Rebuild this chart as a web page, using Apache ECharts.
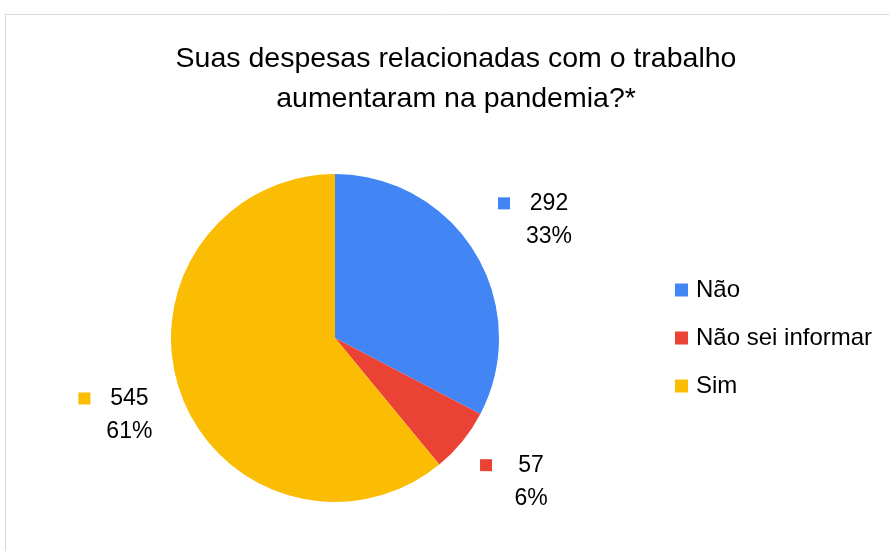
<!DOCTYPE html>
<html>
<head>
<meta charset="utf-8">
<script src="https://cdn.jsdelivr.net/npm/echarts@6/dist/echarts.min.js"></script>
<style>
  html, body { margin: 0; padding: 0; background: #fff; }
  #chart { width: 889px; height: 551px; }
</style>
</head>
<body>
<div id="chart"></div>
<script>
const titleText = "Suas despesas relacionadas com o trabalho\naumentaram na pandemia?*";
const categories = ["Não", "Não sei informar", "Sim"];
const counts = [292, 57, 545];
const colors = ["#4285F4", "#EA4335", "#FBBC04"];

const fontFamily = "'Liberation Sans', Arial, sans-serif";
const total = counts.reduce((a, b) => a + b, 0);

const pieData = categories.map((name, i) => ({
  name,
  value: counts[i],
  itemStyle: { color: colors[i] },
  label: {
    rich: {
      sq: { width: 12, height: 12, backgroundColor: colors[i] }
    }
  }
}));

const chart = echarts.init(document.getElementById("chart"), null, { renderer: "canvas" });

chart.setOption({
  animation: false,
  title: {
    text: titleText,
    left: 451,
    textAlign: "center",
    top: 34,
    textStyle: {
      fontFamily,
      fontSize: 28.5,
      fontWeight: "normal",
      color: "#000",
      lineHeight: 40
    }
  },
  graphic: [{
    type: "rect",
    shape: { x: 5.5, y: 14.5, width: 900, height: 560 },
    style: { fill: "none", stroke: "#d9d9d9", lineWidth: 1 },
    silent: true
  }],
  legend: {
    orient: "vertical",
    left: 675,
    top: 278,
    padding: 0,
    icon: "rect",
    itemWidth: 13,
    itemHeight: 13,
    itemGap: 24,
    textStyle: { fontFamily, fontSize: 24, color: "#000", padding: [0, 0, 0, 3] },
    data: categories
  },
  series: [{
    type: "pie",
    center: [335, 338],
    radius: 164,
    startAngle: 90,
    clockwise: true,
    data: pieData,
    label: {
      show: true,
      position: "outside",
      formatter: (p) => {
        const pct = Math.round(p.value / total * 100) + "%";
        return "{sq|}{gap|}{v|" + p.value + "}\n{gap2|}{p|" + pct + "}";
      },
      rich: {
        gap: { width: 16 },
        gap2: { width: 28 },
        v: { width: 46, align: "center", fontFamily, fontSize: 23, color: "#000", lineHeight: 33 },
        p: { width: 46, align: "center", fontFamily, fontSize: 23, color: "#000", lineHeight: 33 }
      }
    },
    labelLine: { show: false, length: 64, length2: 0 },
    labelLayout: () => ({ align: "center" })
  }]
});
</script>
</body>
</html>
